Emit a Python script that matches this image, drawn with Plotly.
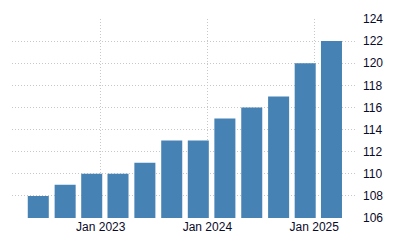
import plotly.graph_objects as go

dates = ["2022-06-01", "2022-09-01", "2022-12-01", "2023-03-01", "2023-06-01", "2023-09-01",
         "2023-12-01", "2024-03-01", "2024-06-01", "2024-09-01", "2024-12-01", "2025-03-01"]
values = [108, 109, 110, 110, 111, 113, 113, 115, 116, 117, 120, 122]
x_ticks = ["2023-01-01", "2024-01-01", "2025-01-01"]
x_tick_labels = ["Jan 2023", "Jan 2024", "Jan 2025"]
y_ticks = [106, 108, 110, 112, 114, 116, 118, 120, 122, 124]

fig = go.Figure(go.Bar(x=dates, y=values, marker=dict(color="#4682B4", line=dict(width=0))))

fig.update_layout(
    width=400, height=250,
    margin=dict(l=12, r=44, t=17, b=32),
    paper_bgcolor="white", plot_bgcolor="white",
    bargap=0.2,
    showlegend=False,
    font=dict(family="Liberation Sans, Arial, sans-serif", size=12, color="#000000"),
)
fig.update_xaxes(
    type="date",
    range=["2022-03-03", "2025-05-24"],
    tickvals=x_ticks, ticktext=x_tick_labels,
    showgrid=True, gridcolor="#c8c8c8", griddash="1px,2px", gridwidth=1,
    showline=False, zeroline=False, ticks="", tickfont=dict(color="#0a0a2a"),
)
fig.update_yaxes(
    range=[106, 124], side="right",
    tickvals=y_ticks,
    showgrid=True, gridcolor="#c8c8c8", griddash="1px,2px", gridwidth=1,
    showline=False, zeroline=False, ticks="", ticklabelstandoff=6,
    tickfont=dict(color="#0a0a2a"),
)

fig.write_html("out.html")
